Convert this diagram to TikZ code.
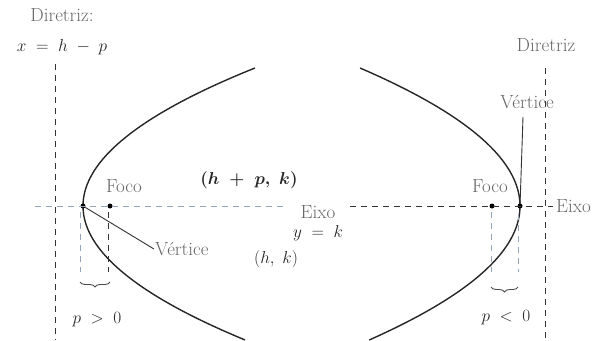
\documentclass[tikz,border=0pt]{standalone}
\usepackage{amsmath}
\usetikzlibrary{decorations.pathreplacing}
\definecolor{lightdash}{RGB}{150,165,190}
\begin{document}
\begin{tikzpicture}[x=1pt,y=-1pt,
  curve/.style={line width=1.4pt,color=black!85},
  dline/.style={dashed,line width=0.9pt,dash pattern=on 6pt off 5pt,color=black!80},
  lline/.style={dashed,line width=0.9pt,dash pattern=on 6pt off 5pt,color=lightdash},
  lbl/.style={font=\fontsize{19}{21}\selectfont,text=black!60,inner sep=1pt},
  mth/.style={font=\fontsize{19}{21}\selectfont,text=black!85,inner sep=1pt},
  pt/.style={circle,fill=black,inner sep=0pt,minimum size=5pt},
  brc/.style={decorate,decoration={brace,amplitude=5pt,mirror},line width=0.9pt,color=black!70}]
\useasboundingbox (0,0) rectangle (615,340);
% parabolas
\draw[curve,domain=-1.38:1.34,smooth,samples=80] plot ({83+90.3*\x*\x},{206+100*\x});
\draw[curve,domain=-1.38:1.34,smooth,samples=80] plot ({520-84*\x*\x},{206+100*\x});
% points
\node[pt] (vL) at (83,206) {};
\node[pt] (fL) at (110,206) {};
\node[pt] (vR) at (520,206) {};
\node[pt] (fR) at (492,206) {};
% directrices
\coordinate (dLt) at (55,64); \coordinate (dLb) at (55,340);
\coordinate (dRt) at (545,68); \coordinate (dRb) at (545,340);
\draw[dline] (dLt) -- (dLb);
\draw[dline] (dRt) -- (dRb);
% axis
\coordinate (aL1) at (35,206); \coordinate (aL2) at (285,206);
\coordinate (aR1) at (350,206); \coordinate (aR2) at (553,206);
\draw[lline] (aL1) -- (aL2);
\draw[dline] (aR1) -- (aR2);
% vertical guides
\coordinate (gv1t) at (80,212); \coordinate (gv1) at (80,272);
\coordinate (gf1t) at (108,212); \coordinate (gf1) at (108,272);
\coordinate (gv2t) at (518,214); \coordinate (gv2) at (518,272);
\coordinate (gf2t) at (491,212); \coordinate (gf2) at (491,272);
\draw[lline] (gv1t) -- (gv1);
\draw[dline] (gf1t) -- (gf1);
\draw[lline] (gf2t) -- (gf2);
\draw[lline] (gv2t) -- (gv2);
% braces
\coordinate (b1a) at (80,282); \coordinate (b1b) at (110,282);
\coordinate (b2a) at (491,287); \coordinate (b2b) at (518,287);
\draw[brc] (b1a) -- (b1b);
\draw[brc] (b2a) -- (b2b);
% labels
\node[lbl] (dirL) at (62,15) {Diretriz:};
\node[mth] (eqL) at (62,47) {$x\;=\;h\;-\;p$};
\node[lbl] (dirR) at (546,45) {Diretriz};
\node[lbl,anchor=west] (eixoR) at (555,206) {Eixo};
\node[lbl] (focoL) at (124,186) {Foco};
\node[mth] (hp) at (249,180) {$\boldsymbol{(h\;+\;p,\;k)}$};
\node[lbl] (eixoM) at (318,212) {Eixo};
\node[mth] (yk) at (318,233) {$y\;=\;k$};
\node[lbl,anchor=west] (vertL) at (154,249) {V\'ertice};
\node[mth] (hk) at (276,259) {$(h,\;k)$};
\node[lbl] (focoR) at (490,186) {Foco};
\node[lbl] (vertR) at (527,102) {V\'ertice};
\node[mth] (pg) at (97,320) {$p\;>\;0$};
\node[mth] (pl) at (506,318) {$p\;<\;0$};
% leaders
\coordinate (vRl) at (523,117);
\draw[line width=0.9pt,black!80] (vL) -- (vertL.west);
\draw[line width=0.9pt,black!80] (vRl) -- (vR);
\end{tikzpicture}
\end{document}
